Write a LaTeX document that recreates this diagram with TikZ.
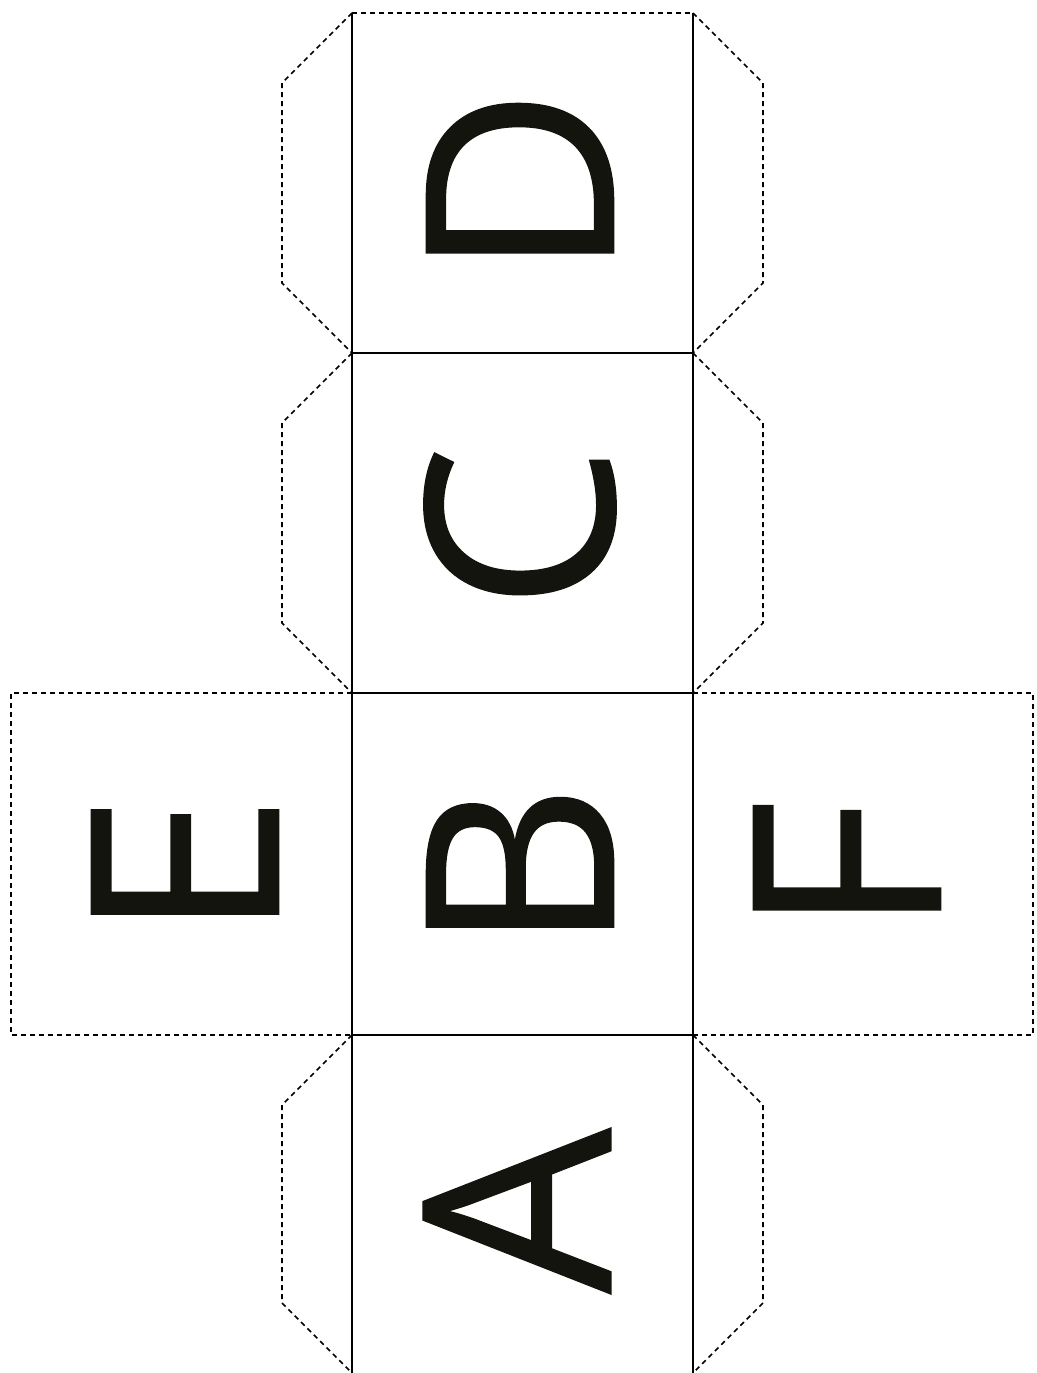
\documentclass[tikz,border=0pt]{standalone}
\usepackage{fontspec}
\setmainfont{Open Sans}
\newfontfamily\letterfont[FakeBold=0.6]{Open Sans}
\definecolor{ink}{RGB}{20,20,15}
\begin{document}
\begin{tikzpicture}[x=1pt,y=-1pt,
  cutline/.style={line width=1.6pt,black},
  foldline/.style={line width=1.7pt,black,dash pattern=on 5pt off 4pt},
  letter/.style={rotate=90,inner sep=0pt,text=ink,font=\letterfont\fontsize{262}{262}\selectfont}]
\useasboundingbox (0,0) rectangle (1036,1373);
% solid face lines
\draw[cutline] (352,13) -- (352,1373);
\draw[cutline] (693,13) -- (693,1373);
\draw[cutline] (352,353) -- (693,353);
\draw[cutline] (352,693) -- (693,693);
\draw[cutline] (352,1035) -- (693,1035);
% dashed top
\draw[foldline] (352,13) -- (693,13);
% left tabs
\draw[foldline] (352,13) -- (282,83) -- (282,283) -- (352,353);
\draw[foldline] (352,353) -- (282,423) -- (282,623) -- (352,693);
\draw[foldline] (352,1035) -- (282,1105) -- (282,1303) -- (352,1373);
% right tabs
\draw[foldline] (693,13) -- (763,83) -- (763,283) -- (693,353);
\draw[foldline] (693,353) -- (763,423) -- (763,623) -- (693,693);
\draw[foldline] (693,1035) -- (763,1105) -- (763,1303) -- (693,1373);
% side faces
\draw[foldline] (352,693) -- (11,693) -- (11,1035) -- (352,1035);
\draw[foldline] (693,693) -- (1033,693) -- (1033,1035) -- (693,1035);
% letters
\node[letter] (D) at (520,183) {D};
\node[letter] (C) at (520,528) {C};
\node[letter] (B) at (520,868) {B};
\node[letter] (A) at (517,1211) {A};
\node[letter] (E) at (185,867) {E};
\node[letter] (F) at (847,868) {F};
\end{tikzpicture}
\end{document}
